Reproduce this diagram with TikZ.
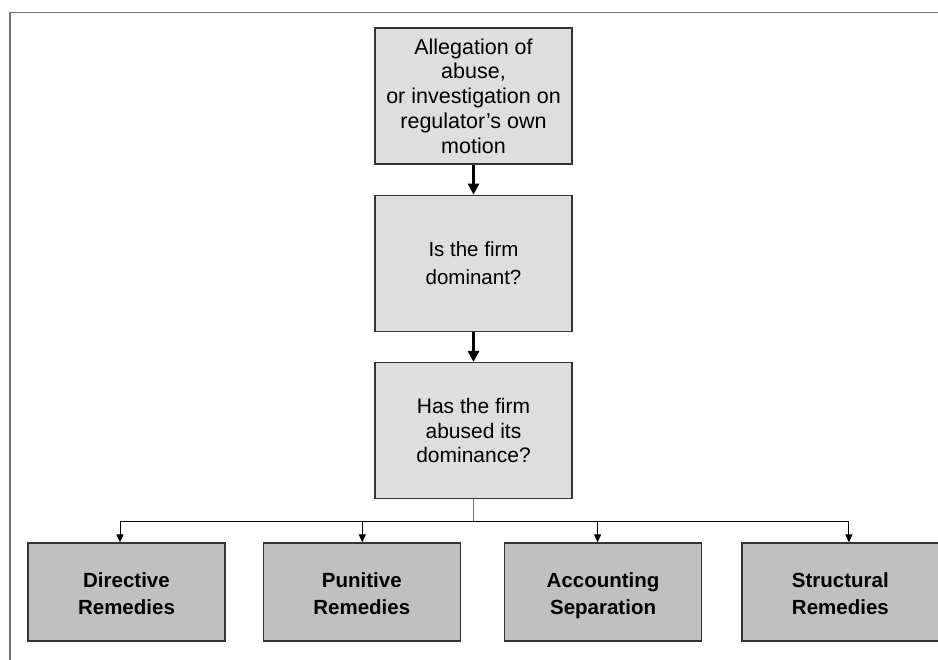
\documentclass[tikz,border=0pt]{standalone}
\usepackage{fontspec}
\setmainfont{Liberation Sans}
\usetikzlibrary{positioning,arrows.meta}
\definecolor{boxgray}{HTML}{DEDEDE}
\definecolor{remgray}{HTML}{C0C0C0}
\definecolor{framegray}{HTML}{707070}
\newcommand{\remtop}{\rule{0pt}{27pt}}

\tikzset{
  question/.style={draw=black!80, line width=1.3pt, fill=boxgray, align=center,
    minimum width=197pt, minimum height=136pt, inner sep=0pt},
  remedy/.style={draw=black!80, line width=1.3pt, fill=remgray, align=center,
    minimum width=197pt, minimum height=98pt, inner sep=0pt,
    font=\fontsize{20.5}{27}\selectfont\bfseries},
  flow/.style={line width=3pt, -{Triangle[length=11pt,width=11pt]}},
  branch/.style={line width=1pt, -{Triangle[length=8pt,width=7pt]}}
}

\begin{document}
\begin{tikzpicture}[x=1pt,y=-1pt]
  \useasboundingbox (0,0) rectangle (938,660);
  \draw[framegray, line width=1.3pt] (10,660) -- (10,12.5) -- (938,12.5);

  % questions
  \node[question, font=\fontsize{21.5}{24.7}\selectfont]
    (alleg) at (473.5,96) {Allegation of\\abuse,\\or investigation on\\regulator’s own\\motion};
  \node[question, font=\fontsize{20.5}{28}\selectfont,
    below=30pt of alleg] (dominant) {Is the firm\\dominant?};
  \node[question, font=\fontsize{21}{24.7}\selectfont,
    below=30pt of dominant] (abused) {Has the firm\\abused its\\dominance?};

  % remedies
  \node[remedy] (directive) at (126.5,592) {\remtop Directive\\Remedies\strut};
  \node[remedy, right=37pt of directive] (punitive) {\remtop Punitive\\Remedies\strut};
  \node[remedy, right=43pt of punitive] (accounting) {\remtop Accounting\\Separation\strut};
  \node[remedy, right=39pt of accounting] (structural) {\remtop Structural\\Remedies\strut};

  \draw[flow] (alleg) -- (dominant);
  \draw[flow] (dominant) -- (abused);

  \coordinate (split) at ([yshift=-22pt]abused.south);
  \draw[framegray, line width=1pt] (abused.south) -- (split);
  \foreach \n/\dx in {directive/-6.5, punitive/0.5, accounting/-5.5, structural/8.5}
    \draw[branch] (split) -| ([xshift=\dx pt]\n.north);
\end{tikzpicture}
\end{document}
